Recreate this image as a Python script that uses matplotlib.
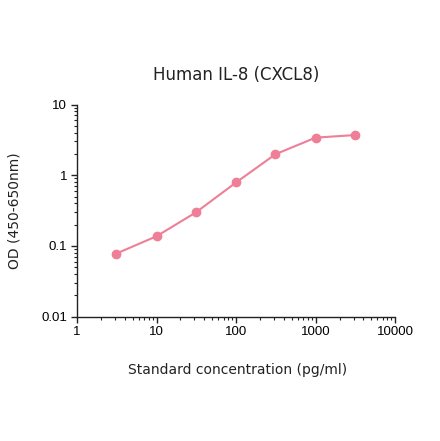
import numpy as np
import matplotlib
matplotlib.use("Agg")
import matplotlib.pyplot as plt
from matplotlib.ticker import LogLocator, FixedLocator, NullFormatter

# standard curve values
conc = [3.125, 10, 31.25, 100, 312.5, 1000, 3125]
od = [0.078, 0.137, 0.298, 0.79, 1.98, 3.4, 3.7]

xticks = [1, 10, 100, 1000, 10000]
xtick_labels = ["1", "10", "100", "1000", "10000"]
yticks = [0.01, 0.1, 1, 10]
ytick_labels = ["0.01", "0.1", "1", "10"]

col = "#EE7F96"

fig = plt.figure(figsize=(4.4, 4.41), dpi=100)
ax = fig.add_axes([0.175, 0.282, 0.723, 0.481])

ax.plot(conc, od, color=col, lw=1.5, marker="o", ms=6, mec=col, mfc=col)

ax.set_xscale("log")
ax.set_yscale("log")
ax.set_xlim(1, 10000)
ax.set_ylim(0.01, 10)

ax.xaxis.set_major_locator(FixedLocator(xticks))
ax.set_xticklabels(xtick_labels, family="Liberation Sans", fontsize=9.5)
ax.yaxis.set_major_locator(FixedLocator(yticks))
ax.set_yticklabels(ytick_labels, family="Liberation Sans", fontsize=9.5)
ax.xaxis.set_minor_locator(LogLocator(base=10, subs=np.arange(2, 10), numticks=20))
ax.yaxis.set_minor_locator(LogLocator(base=10, subs=np.arange(2, 10), numticks=20))
ax.xaxis.set_minor_formatter(NullFormatter())
ax.yaxis.set_minor_formatter(NullFormatter())

for s in ["top", "right"]:
    ax.spines[s].set_visible(False)
for s in ["left", "bottom"]:
    ax.spines[s].set_linewidth(1.0)
    ax.spines[s].set_color("#222222")

ax.tick_params(which="major", direction="out", length=4, width=1, color="#222222", pad=3)
ax.tick_params(which="minor", direction="out", length=2.5, width=0.8, color="#222222")

fig.text(0.537, 0.83, "Human IL-8 (CXCL8)", ha="center", va="center", fontsize=12, color="#222222")
fig.text(0.539, 0.161, "Standard concentration (pg/ml)", ha="center", va="center", fontsize=10, color="#222222")
fig.text(0.033, 0.523, "OD (450-650nm)", ha="center", va="center", rotation=90, fontsize=10, color="#222222")

fig.savefig("out.png", dpi=100)
